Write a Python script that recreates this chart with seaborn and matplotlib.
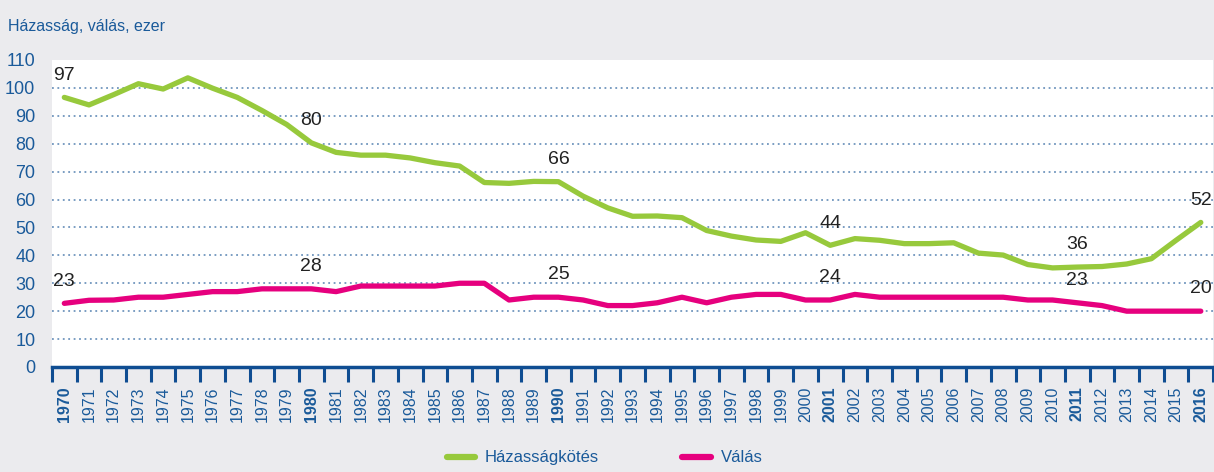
import numpy as np
import pandas as pd
import matplotlib.pyplot as plt
import seaborn as sns

years = list(range(1970, 2017))
hazassag = [96.6, 93.9, 97.6, 101.5, 99.6, 103.6, 99.9, 96.6, 91.9, 86.9,
            80.3, 76.9, 75.9, 75.9, 74.9, 73.2, 72.0, 66.1, 65.8, 66.5,
            66.4, 61.2, 57.0, 54.0, 54.1, 53.5, 48.9, 46.9, 45.5, 45.0,
            48.1, 43.6, 46.0, 45.4, 44.2, 44.2, 44.5, 40.8, 40.1, 36.7,
            35.5, 35.8, 36.0, 36.9, 38.8, 45.4, 51.8]
valas = [22.8, 23.9, 24.0, 25.0, 25.0, 26.0, 27.0, 27.0, 28.0, 28.0,
         28.0, 27.0, 29.0, 29.0, 29.0, 29.0, 30.0, 30.0, 24.0, 25.0,
         25.0, 24.0, 22.0, 22.0, 23.0, 25.0, 23.0, 25.0, 26.0, 26.0,
         24.0, 24.0, 26.0, 25.0, 25.0, 25.0, 25.0, 25.0, 25.0, 24.0,
         24.0, 23.0, 22.0, 20.0, 20.0, 20.0, 20.0]
label_years = [1970, 1980, 1990, 2001, 2011, 2016]
series_names = ['Házasságkötés', 'Válás']

green = '#97c93c'
pink = '#e6007e'
blue = '#1a5a9a'
bg = '#ebebee'

sns.set_style('white')
plt.rcParams['font.family'] = ['Liberation Sans Narrow', 'Liberation Sans', 'DejaVu Sans']

df = pd.DataFrame({
    'ev': years * 2,
    'ertek': hazassag + valas,
    'sorozat': [series_names[0]] * len(years) + [series_names[1]] * len(years),
})

fig = plt.figure(figsize=(12.14, 4.72), dpi=100, facecolor=bg)
ax = fig.add_axes([0.0428, 0.2225, 0.9565, 0.6504])
ax.set_facecolor('white')

sns.lineplot(data=df, x='ev', y='ertek', hue='sorozat',
             palette=[green, pink], linewidth=3.8, ax=ax, legend=False)

ax.set_xlim(years[0] - 0.5, years[-1] + 0.5)
ax.set_ylim(0, 110)
ax.set_yticks(range(0, 111, 10))
for v in range(10, 101, 10):
    ax.axhline(v, color='#6f95bd', lw=1.3, ls=(0, (1, 2)), zorder=0)

# point labels
for i, y in enumerate(years):
    if y in label_years:
        ax.annotate(f'{hazassag[i]:.0f}', (y, hazassag[i]), xytext=(0, 16),
                    textcoords='offset points', ha='center', va='center',
                    fontsize=14, color='#222222')
        ax.annotate(f'{valas[i]:.0f}', (y, valas[i]), xytext=(0, 16),
                    textcoords='offset points', ha='center', va='center',
                    fontsize=14, color='#222222')

for s in ['top', 'right', 'left']:
    ax.spines[s].set_visible(False)
ax.spines['bottom'].set_color('#0f4d92')
ax.spines['bottom'].set_linewidth(2.5)

ax.set_xticks(years)
ax.set_xticklabels([str(y) for y in years], rotation=90, fontsize=11.5, color=blue)
for lab in ax.get_xticklabels():
    if int(lab.get_text()) in label_years:
        lab.set_fontweight('bold')
ax.tick_params(axis='x', which='major', length=0, pad=14)
ax.set_xticks(np.arange(years[0] - 0.5, years[-1] + 1.0, 1), minor=True)
ax.tick_params(axis='x', which='minor', bottom=True, length=11, width=2.2,
               color='#0f4d92', direction='out')
ax.tick_params(axis='y', length=0, labelsize=13, labelcolor=blue, pad=12)
ax.set_xlabel('')
ax.set_ylabel('')

fig.text(0.007, 0.935, 'Házasság, válás, ezer', fontsize=11.5, color=blue)

handles = [plt.Line2D([], [], color=green, lw=4.5, solid_capstyle='round'),
           plt.Line2D([], [], color=pink, lw=4.5, solid_capstyle='round')]
fig.legend(handles, series_names, loc='center', bbox_to_anchor=(0.498, 0.03),
           ncol=2, frameon=False, fontsize=12, labelcolor=blue,
           handlelength=1.7, columnspacing=5, handletextpad=0.6,
           borderpad=0.1)

fig.savefig('out.png', dpi=100, facecolor=bg)
